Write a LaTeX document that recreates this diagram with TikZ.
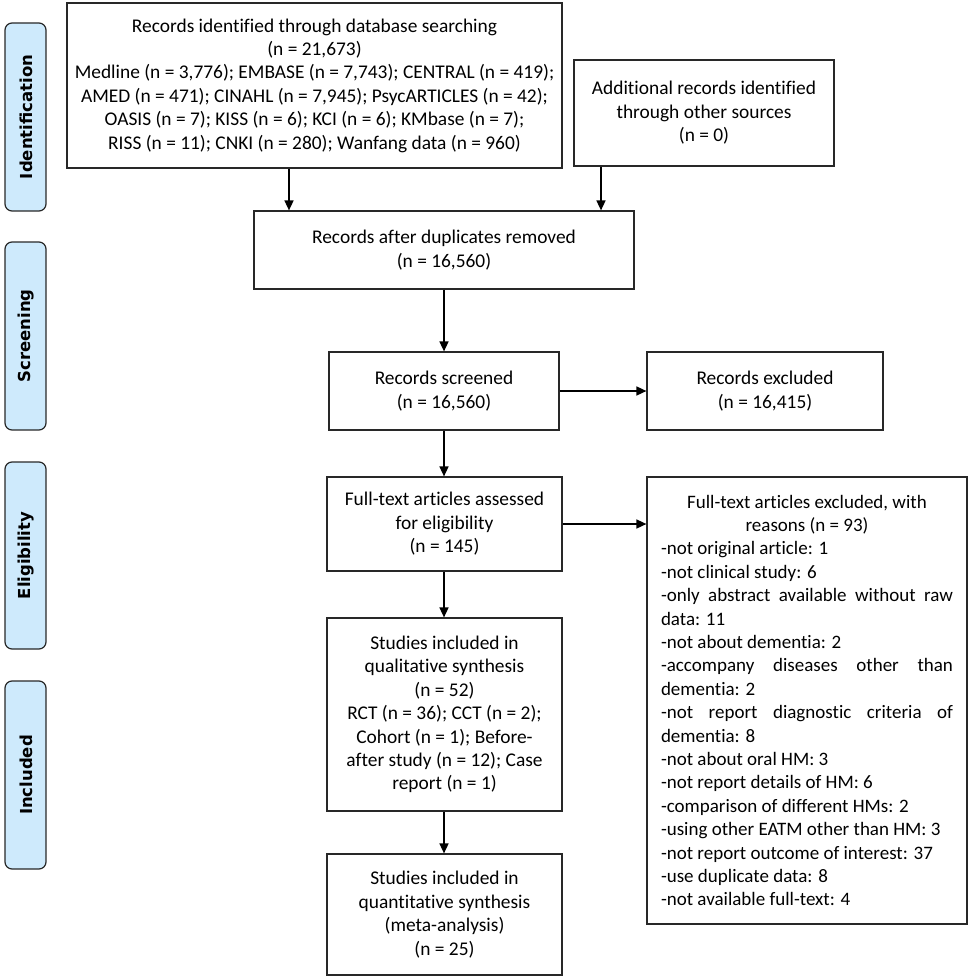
\documentclass[tikz,border=0pt]{standalone}
\usepackage{fontspec}
\setmainfont{Carlito}[Ligatures=NoCommon]
\newfontfamily\sidefont{DejaVu Sans}
\usetikzlibrary{arrows.meta}
\definecolor{sideblue}{RGB}{206,234,252}
\definecolor{edge}{RGB}{40,40,40}
\begin{document}
\begin{tikzpicture}[x=1pt,y=-1pt,
  box/.style={draw=edge, line width=1.2pt, align=center, inner sep=0pt,
    font=\fontsize{19.4}{23.4}\selectfont},
  side/.style={draw=edge, line width=1.2pt, fill=sideblue, rounded corners=7pt,
    minimum width=41pt, minimum height=188pt, inner sep=0pt},
  sidelabel/.style={rotate=90, font=\sidefont\bfseries\fontsize{16.5}{19}\selectfont},
  arr/.style={line width=1.6pt, draw=black, -{Triangle[length=10pt,width=9pt]}}]
\useasboundingbox (0,0) rectangle (969,979);

% phase sidebars
\node[side] (s1) at (25.5,117) {};
\node[sidelabel] (l1) at ([xshift=1pt]s1) {Identification};
\node[side] (s2) at (25.5,336) {};
\node[sidelabel] (l2) at ([xshift=1pt]s2) {Screening};
\node[side, minimum height=187pt] (s3) at (25.5,555.5) {};
\node[sidelabel] (l3) at ([xshift=1pt]s3) {Eligibility};
\node[side] (s4) at (25.5,775) {};
\node[sidelabel] (l4) at ([xshift=1pt]s4) {Included};

% boxes
\node[box, minimum width=495pt, minimum height=165pt] (b1) at (314.5,85.5)
  {Records identified through database searching\\
   (n = 21,673)\\
   Medline (n = 3,776); EMBASE (n = 7,743); CENTRAL (n = 419);\\
   AMED (n = 471); CINAHL (n = 7,945); PsycARTICLES (n = 42);\\
   OASIS (n = 7); KISS (n = 6); KCI (n = 6); KMbase (n = 7);\\
   RISS (n = 11); CNKI (n = 280); Wanfang data (n = 960)};
\node[box, minimum width=260pt, minimum height=106pt] (b2) at (704,113)
  {Additional records identified\\ through other sources\\ (n = 0)};
\node[box, minimum width=380pt, minimum height=78pt] (b3) at (444,250)
  {Records after duplicates removed\\ (n = 16,560)};
\node[box, minimum width=230pt, minimum height=78pt] (b4) at (444,391)
  {Records screened\\ (n = 16,560)};
\node[box, minimum width=236pt, minimum height=78pt] (b5) at (765,391)
  {Records excluded\\ (n = 16,415)};
\node[box, minimum width=235pt, minimum height=94pt] (b6) at (444.5,524)
  {Full-text articles assessed\\ for eligibility\\ (n = 145)};
\node[box, minimum width=320pt, minimum height=447pt] (b7) at (807,700.5)
  {\begin{minipage}{292pt}\setlength\parindent{0pt}\fontsize{19}{23.4}\selectfont
   {\centering Full-text articles excluded, with\\ reasons (n = 93)\par}
   -not original article: 1\par
   -not clinical study: 6\par
   -only abstract available without raw\linebreak data: 11\par
   -not about dementia: 2\par
   -accompany diseases other than\linebreak dementia: 2\par
   -not report diagnostic criteria of\linebreak dementia: 8\par
   -not about oral HM: 3\par
   -not report details of HM: 6\par
   -comparison of different HMs: 2\par
   -using other EATM other than HM: 3\par
   -not report outcome of interest: 37\par
   -use duplicate data: 8\par
   -not available full-text: 4\par
   \end{minipage}};
\node[box, minimum width=235pt, minimum height=193pt] (b8) at (444.5,714.5)
  {Studies included in\\ qualitative synthesis\\ (n = 52)\\
   RCT (n = 36); CCT (n = 2);\\ Cohort (n = 1); Before-\\
   after study (n = 12); Case\\ report (n = 1)};
\node[box, minimum width=235pt, minimum height=121pt] (b9) at (444.5,914.5)
  {Studies included in\\ quantitative synthesis\\ (meta-analysis)\\ (n = 25)};

% connectors
\coordinate (x1) at (289,0);
\coordinate (x2) at (601,0);
\draw[arr] (b1.south -| x1) -- (b3.north -| x1);
\draw[arr] (b2.south -| x2) -- (b3.north -| x2);
\draw[arr] (b3.south) -- (b4.north);
\draw[arr] (b4.east) -- (b5.west);
\draw[arr] (b4.south) -- (b6.north -| b4.south);
\draw[arr] (b6.east) -- (b7.west |- b6.east);
\draw[arr] (b6.south -| b4.south) -- (b8.north -| b4.south);
\draw[arr] (b8.south -| b4.south) -- (b9.north -| b4.south);
\end{tikzpicture}
\end{document}
